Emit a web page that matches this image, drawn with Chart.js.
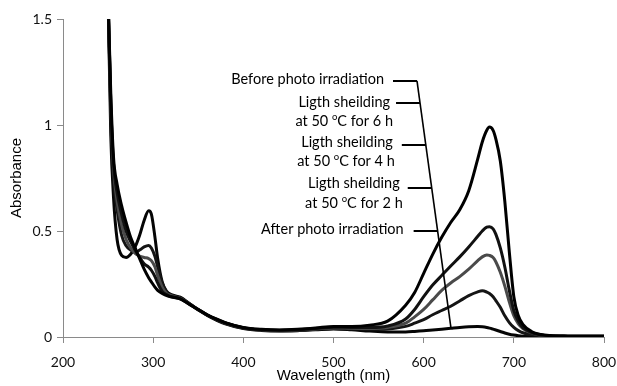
<!DOCTYPE html>
<html>
<head>
<meta charset="utf-8">
<script src="https://cdn.jsdelivr.net/npm/chart.js@4.4.1/dist/chart.umd.min.js"></script>
<style>
  html, body { margin: 0; padding: 0; background: #fff; }
  canvas { display: block; }
</style>
</head>
<body>
<canvas id="c" width="617" height="386"></canvas>
<script>
// ---- Data ----
const wavelengths = [250,253,256,260,265,270,275,280,285,290,
  295,298,302,305,310,315,320,330,340,350,
  360,370,380,400,420,440,460,480,500,520,
  540,560,580,590,600,610,620,630,640,650,
  660,665,670,673,677,680,685,690,695,700,
  705,710,720,730,740,760,780,800];

const beforeIrradiation = [1.6,1.15,0.85,0.72,0.62,0.54,0.47,0.42,0.37,0.32,
  0.28,0.26,0.235,0.22,0.205,0.195,0.19,0.18,0.155,0.13,
  0.105,0.085,0.068,0.045,0.036,0.033,0.036,0.042,0.05,0.05,
  0.056,0.075,0.15,0.21,0.3,0.39,0.47,0.54,0.6,0.69,
  0.84,0.92,0.975,0.99,0.975,0.935,0.83,0.64,0.4,0.19,
  0.1,0.06,0.025,0.012,0.007,0.004,0.003,0.003];

const shield6h = [1.6,1.1,0.82,0.68,0.58,0.5,0.45,0.41,0.375,0.345,
  0.33,0.315,0.285,0.255,0.215,0.2,0.19,0.18,0.155,0.128,
  0.103,0.083,0.066,0.044,0.035,0.032,0.034,0.04,0.046,0.045,
  0.045,0.052,0.085,0.13,0.19,0.245,0.29,0.335,0.378,0.425,
  0.475,0.5,0.518,0.52,0.51,0.485,0.42,0.33,0.22,0.125,
  0.075,0.045,0.02,0.01,0.006,0.004,0.003,0.003];

const shield4h = [1.6,1.1,0.8,0.64,0.53,0.46,0.42,0.395,0.382,0.375,
  0.37,0.36,0.33,0.29,0.235,0.205,0.195,0.182,0.157,0.13,
  0.104,0.084,0.066,0.043,0.034,0.031,0.033,0.038,0.043,0.041,
  0.04,0.045,0.065,0.095,0.13,0.175,0.22,0.255,0.285,0.32,
  0.36,0.378,0.387,0.385,0.375,0.355,0.305,0.24,0.165,0.1,
  0.062,0.04,0.018,0.009,0.005,0.003,0.003,0.003];

const shield2h = [1.6,1.05,0.75,0.6,0.48,0.43,0.41,0.4,0.41,0.425,
  0.432,0.42,0.38,0.33,0.255,0.212,0.198,0.185,0.158,0.13,
  0.104,0.083,0.065,0.042,0.033,0.03,0.032,0.036,0.04,0.038,
  0.036,0.038,0.05,0.065,0.082,0.105,0.125,0.145,0.17,0.195,
  0.213,0.218,0.212,0.205,0.19,0.172,0.14,0.1,0.068,0.045,
  0.03,0.02,0.01,0.006,0.004,0.003,0.003,0.003];

const afterIrradiation = [1.6,0.95,0.66,0.46,0.385,0.375,0.39,0.425,0.48,0.55,
  0.595,0.58,0.47,0.37,0.26,0.215,0.2,0.188,0.158,0.128,
  0.102,0.08,0.062,0.04,0.031,0.028,0.03,0.034,0.038,0.034,
  0.028,0.024,0.024,0.026,0.029,0.033,0.037,0.041,0.045,0.048,
  0.049,0.048,0.045,0.042,0.037,0.033,0.026,0.019,0.013,0.009,
  0.006,0.004,0.003,0.002,0.002,0.002,0.002,0.002];

const seriesLabels = ["Before photo irradiation", "Ligth sheilding at 50 oC for 6 h",
  "Ligth sheilding at 50 oC for 4 h", "Ligth sheilding at 50 oC for 2 h", "After photo irradiation"];
const xTicks = [200, 300, 400, 500, 600, 700, 800];
const yTicks = [0, 0.5, 1, 1.5];

// ---- Build datasets ----
function pts(vals) { return wavelengths.map((w, i) => ({ x: w, y: vals[i] })); }
const seriesValues = [beforeIrradiation, shield6h, shield4h, shield2h, afterIrradiation];
const seriesColors = ['#000000', '#111111', '#4a4a4a', '#151515', '#050505'];

const datasets = seriesValues.map((v, i) => ({
  label: seriesLabels[i],
  data: pts(v),
  borderColor: seriesColors[i],
  borderWidth: 3,
  pointRadius: 0,
  fill: false,
  cubicInterpolationMode: 'monotone'
}));

// ---- Annotation (labels with leader lines) ----
const annotationPlugin = {
  id: 'leaderLabels',
  afterDatasetsDraw(chart) {
    const ctx = chart.ctx;
    const xs = chart.scales.x, ys = chart.scales.y;
    const top = { x: xs.getPixelForValue(592.6), y: ys.getPixelForValue(1.208) };
    const bot = { x: xs.getPixelForValue(630.3), y: ys.getPixelForValue(0.042) };
    ctx.save();
    ctx.strokeStyle = '#000';
    ctx.lineWidth = 1.6;
    ctx.beginPath();
    ctx.moveTo(top.x, top.y);
    ctx.lineTo(bot.x, bot.y);
    ctx.stroke();
    const slope = (bot.x - top.x) / (bot.y - top.y);
    const xOnLine = (y) => top.x + (y - top.y) * slope;

    const font = '14.5px Lato';
    const smallFont = '9.5px Lato';
    ctx.fillStyle = '#000';
    ctx.textBaseline = 'middle';

    function drawText(str, right, y) {
      const idx = str.indexOf(' oC');
      if (idx < 0) {
        ctx.font = font; ctx.textAlign = 'right';
        ctx.fillText(str, right, y);
        return;
      }
      const a = str.slice(0, idx + 1), b = 'o', c = str.slice(idx + 2);
      ctx.font = font; const wa = ctx.measureText(a).width, wc = ctx.measureText(c).width;
      ctx.font = smallFont; const wb = ctx.measureText(b).width;
      let x = right - (wa + wb + wc);
      ctx.textAlign = 'left';
      ctx.font = font; ctx.fillText(a, x, y); x += wa;
      ctx.font = smallFont; ctx.fillText(b, x, y - 4); x += wb;
      ctx.font = font; ctx.fillText(c, x, y);
    }

    const items = [
      { y: 62, lines: [["Before photo irradiation", -9, -2]] },
      { y: 84, lines: [["Ligth sheilding", -6, -1], ["at 50 oC for 6 h", -3, 18]] },
      { y: 126, lines: [["Ligth sheilding", -9, -3], ["at 50 oC for 4 h", -7, 16]] },
      { y: 169, lines: [["Ligth sheilding", -8, -5], ["at 50 oC for 2 h", -5, 15]] },
      { y: 212, lines: [["After photo irradiation", -10, -2]] }
    ];
    const area = chart.chartArea;
    items.forEach(it => {
      const y = area.top + it.y;
      const xr = xOnLine(y);
      const xl = xr - 24;
      ctx.beginPath();
      ctx.lineWidth = 2;
      ctx.moveTo(xl, y);
      ctx.lineTo(xr, y);
      ctx.stroke();
      it.lines.forEach(l => drawText(l[0], xl + l[1], y + l[2]));
    });
    ctx.restore();
  }
};

new Chart(document.getElementById('c'), {
  type: 'line',
  data: { datasets },
  options: {
    responsive: false,
    devicePixelRatio: 1,
    animation: false,
    layout: { padding: { top: 19, right: 13, left: 0, bottom: 0 } },
    plugins: { legend: { display: false }, tooltip: { enabled: false } },
    scales: {
      x: {
        type: 'linear',
        min: 200, max: 800,
        afterBuildTicks: (s) => { s.ticks = xTicks.map(v => ({ value: v })); },
        afterFit: (s) => { s.height = 49; s.paddingRight = 0; s.paddingLeft = 0; },
        grid: { drawOnChartArea: false, drawTicks: true, tickLength: 6, tickColor: '#8a8a8a' },
        border: { color: '#8a8a8a', width: 1 },
        ticks: { font: { family: 'Lato', size: 14 }, color: '#111', padding: 11, maxRotation: 0 },
        title: { display: true, text: 'Wavelength (nm)', font: { family: 'Liberation Sans', size: 15 }, color: '#000', padding: { top: 0, bottom: 1 } }
      },
      y: {
        min: 0, max: 1.5,
        afterBuildTicks: (s) => { s.ticks = yTicks.map(v => ({ value: v })); },
        afterFit: (s) => { s.width = 63; s.paddingTop = 0; s.paddingBottom = 0; },
        grid: { drawOnChartArea: false, drawTicks: true, tickLength: 6, tickColor: '#8a8a8a' },
        border: { color: '#8a8a8a', width: 1 },
        ticks: { font: { family: 'Lato', size: 14 }, color: '#111', padding: 5,
          callback: (v) => String(v) },
        title: { display: true, text: 'Absorbance', font: { family: 'Liberation Sans', size: 15 }, color: '#000', padding: { top: 8, bottom: 0 } }
      }
    }
  },
  plugins: [annotationPlugin]
});
</script>
</body>
</html>
